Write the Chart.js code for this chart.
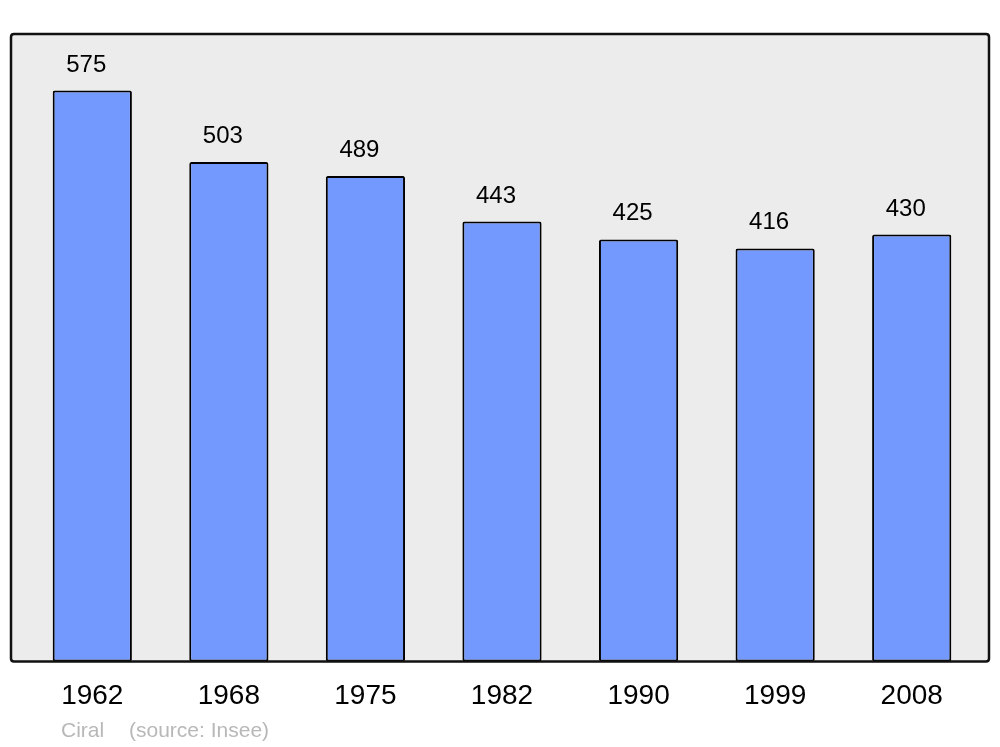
<!DOCTYPE html>
<html>
<head>
<meta charset="utf-8">
<script src="https://cdn.jsdelivr.net/npm/chart.js@4.4.0/dist/chart.umd.min.js"></script>
<style>
  html, body { margin: 0; padding: 0; background: #ffffff; }
  #wrap { width: 1000px; height: 747px; }
</style>
</head>
<body>
<div id="wrap"><canvas id="popChart" width="1000" height="747"></canvas></div>
<script>
// Population data
const years = ['1962', '1968', '1975', '1982', '1990', '1999', '2008'];
const population = [575, 503, 489, 443, 425, 416, 430];
const footerAuthor = 'Ciral';
const footerSource = '(source: Insee)';

const FONT = '"Liberation Sans", Arial, sans-serif';

function roundRectPath(ctx, x, y, w, h, r) {
    ctx.beginPath();
    ctx.moveTo(x + r, y);
    ctx.lineTo(x + w - r, y);
    ctx.quadraticCurveTo(x + w, y, x + w, y + r);
    ctx.lineTo(x + w, y + h - r);
    ctx.quadraticCurveTo(x + w, y + h, x + w - r, y + h);
    ctx.lineTo(x + r, y + h);
    ctx.quadraticCurveTo(x, y + h, x, y + h - r);
    ctx.lineTo(x, y + r);
    ctx.quadraticCurveTo(x, y, x + r, y);
    ctx.closePath();
}

// Grey frame behind the bars, border on top, value labels and footer
const framePlugin = {
    id: 'frame',
    beforeDatasetsDraw(chart) {
        const ctx = chart.ctx;
        const a = chart.chartArea;
        ctx.save();
        roundRectPath(ctx, 11, a.top, 978, a.bottom - a.top, 3);
        ctx.fillStyle = '#ececec';
        ctx.fill();
        ctx.restore();
    },
    afterDatasetsDraw(chart) {
        const ctx = chart.ctx;
        const a = chart.chartArea;
        ctx.save();
        roundRectPath(ctx, 11, a.top, 978, a.bottom - a.top, 3);
        ctx.lineWidth = 2.5;
        ctx.strokeStyle = '#111111';
        ctx.stroke();

        // value labels above bars
        const meta = chart.getDatasetMeta(0);
        ctx.fillStyle = '#000000';
        ctx.font = '24px ' + FONT;
        ctx.textAlign = 'center';
        ctx.textBaseline = 'alphabetic';
        meta.data.forEach((bar, i) => {
            ctx.fillText(String(population[i]), bar.x - 6, bar.y - 19);
        });

        // footer
        ctx.fillStyle = '#b8b8b8';
        ctx.font = '21px ' + FONT;
        ctx.textAlign = 'left';
        ctx.fillText(footerAuthor, 61, 737);
        ctx.fillText(footerSource, 129, 737);
        ctx.restore();
    }
};

const ctx = document.getElementById('popChart').getContext('2d');
new Chart(ctx, {
    type: 'bar',
    data: {
        labels: years,
        datasets: [{
            data: population,
            backgroundColor: '#7399ff',
            borderColor: '#000000',
            borderWidth: 2,
            borderRadius: 2,
            borderSkipped: false,
            barPercentage: 0.58,
            categoryPercentage: 1.0
        }]
    },
    options: {
        responsive: false,
        animation: false,
        devicePixelRatio: 1,
        layout: {
            padding: { left: 24, right: 20, top: 34, bottom: 16 }
        },
        plugins: {
            legend: { display: false },
            tooltip: { enabled: false }
        },
        scales: {
            x: {
                grid: { display: false, drawTicks: false },
                border: { display: false },
                ticks: {
                    color: '#000000',
                    padding: 18,
                    font: { family: FONT, size: 28 }
                }
            },
            y: {
                display: false,
                min: 0,
                max: 632
            }
        }
    },
    plugins: [framePlugin]
});
</script>
</body>
</html>
